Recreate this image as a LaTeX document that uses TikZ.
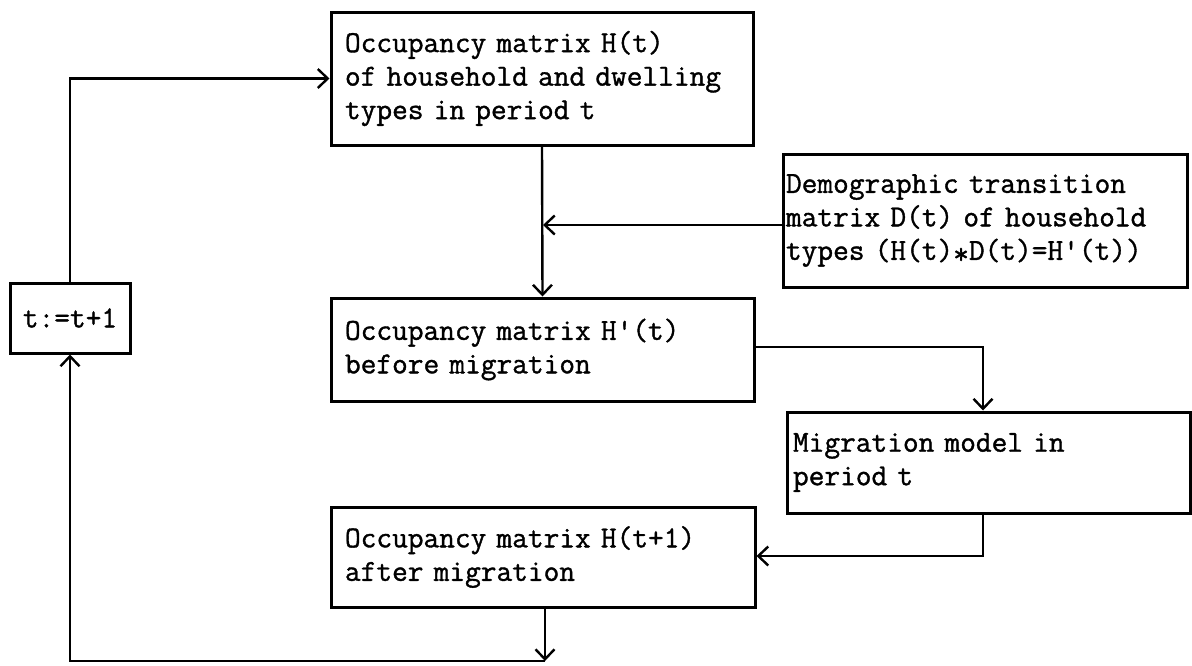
\documentclass[tikz,border=0pt]{standalone}
\usepackage{fontspec}
\newfontfamily\twfont[FakeBold=1.2]{Latin Modern Mono}
\usetikzlibrary{arrows.meta}
\begin{document}
\begin{tikzpicture}[x=1pt,y=-1pt,
  box/.style={draw, line width=3pt, rectangle, inner ysep=0pt, align=left,
    font=\twfont\fontsize{30.5}{33.5}\selectfont},
  conn/.style={line width=2.4pt, -{Straight Barb[length=10pt,width=19pt,line width=2.4pt]}}]
\useasboundingbox (0,0) rectangle (1192,665);
\node[box, minimum width=422pt, minimum height=133pt, text width=394pt, inner xsep=14pt] (A) at (542,78.5)
  {Occupancy matrix H(t)\\of household and dwelling\\types in period t};
\node[box, minimum width=404pt, minimum height=133pt, text width=398pt, inner xsep=3pt] (D) at (985,220.5)
  {Demographic transition\\matrix D(t) of household\\types (H(t)\raisebox{-0.3ex}{*}D(t)=H'(t))};
\node[box, minimum width=120pt, minimum height=70pt, inner xsep=0pt, align=center] (T) at (70,318) {t:=t+1};
\node[box, minimum width=423pt, minimum height=103pt, text width=395pt, inner xsep=14pt] (B) at (542.5,349.5)
  {Occupancy matrix H'(t)\\before migration};
\node[box, minimum width=403pt, minimum height=101pt, text width=391pt, inner xsep=6pt] (M) at (988.5,462.5)
  {Migration model in\\period t};
\node[box, minimum width=424pt, minimum height=100pt, text width=396pt, inner xsep=14pt] (C) at (543,557)
  {Occupancy matrix H(t+1)\\after migration};
\coordinate (dj) at (543,225);
\coordinate (bm) at (983,347);
\coordinate (mc) at (983,556);
\coordinate (bot) at (545,661);
\coordinate (bl) at (70,661);
\draw[conn] (T.north) |- (A.west);
\draw[conn] (A.south) -- (B.north);
\draw[conn] (D.west |- dj) -- (dj);
\draw[conn] (B.east |- bm) -- (bm) -- (bm |- M.north);
\draw[conn] (mc |- M.south) -- (mc) -- (C.east |- mc);
\draw[conn] (C.south -| bot) -- (bot);
\draw[conn] (bot) -- (bl) -- (T.south);
\end{tikzpicture}
\end{document}
